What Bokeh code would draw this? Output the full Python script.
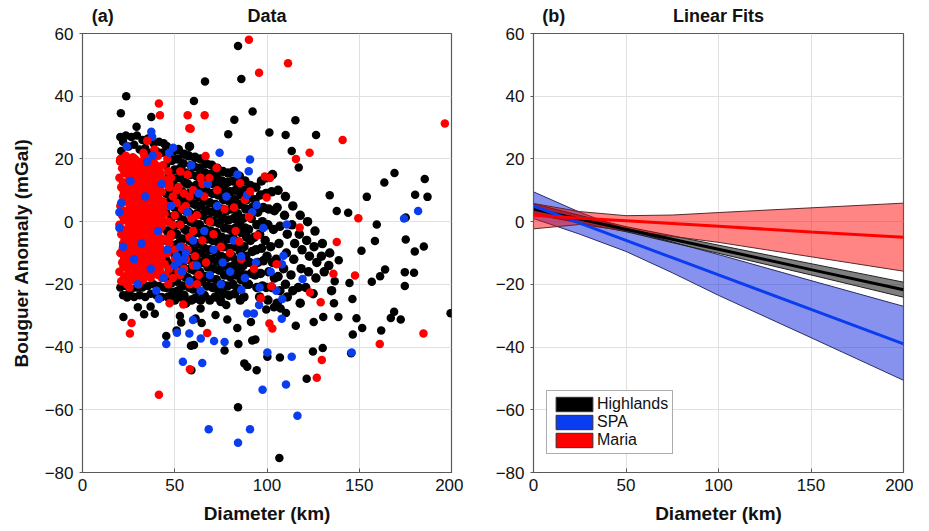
from bokeh.plotting import figure
from bokeh.layouts import row
from bokeh.models import Legend, LegendItem, LinearAxis, Range1d, FixedTicker
from bokeh.embed import file_html
from bokeh.resources import INLINE

FONT = "Liberation Sans"

# ---------------- Panel (a) data: Diameter (km) vs Bouguer anomaly (mGal) ----------------
# Highlands - dense core
hl_core_d = [
    45.5,46.5,45,47,46,45.5,46.5,45,47,46,45.5,46.5,45,47,46,45.5,46.5,
    49,48.5,50,49.5,48,49,50,48.5,49.5,48,49,50,48.5,49.5,48,49,50,
    52,51.5,53,52.5,51,52,53,51.5,52.5,51,52,53,51.5,52.5,51,52,53,
    55,54.5,56,55.5,54,55,56,54.5,55.5,54,55,56,54.5,55.5,54,55,56,
    58,57.5,59,58.5,57,58,59,57.5,58.5,57,58,59,57.5,58.5,57,58,59,
    61,60.5,62,61.5,60,61,62,60.5,61.5,60,61,62,60.5,61.5,60,61,
    64,63.5,65,64.5,63,64,65,63.5,64.5,63,64,65,63.5,64.5,63,64,
    67,66.5,68,67.5,66,67,68,66.5,67.5,66,67,68,66.5,67.5,66,
    70,69.5,71,70.5,69,70,71,69.5,70.5,69,70,71,69.5,70.5,69,
    73,72.5,74,73.5,72,73,74,72.5,73.5,72,73,74,72.5,73.5,72,
    76,75.5,77,76.5,75,76,77,75.5,76.5,75,76,77,75.5,76.5,75,
    79,78.5,80,79.5,78,79,80,78.5,79.5,78,79,80,78.5,79.5,
    82,81.5,83,82.5,81,82,83,81.5,82.5,81,82,83,81.5,82.5,
    85,84.5,86,85.5,84,85,86,84.5,85.5,84,85,86,84.5,85.5,
    88,87.5,89,88.5,87,88,89,87.5,88.5,87,88,89,87.5,
    91,90.5,92,91.5,90,91,92,90.5,91.5,90,
    94,93.5,95,94.5,93,94,95,93.5,94.5,
    97,96.5,98,97.5,96,97,98,96.5,97.5,96,
    100,99.5,101,100.5,99,100,101,99.5,100.5,
    103,102.5,104,103.5,102,103,104,102.5,
    106,105.5,107,106.5,105,106,107,105.5,
    110,109.5,111,110.5,109,110,111,
    114,113.5,115,114.5,113,114,
    118,117.5,119,118.5,117,118,
    122,121.5,123,122.5,121,
    126,125.5,127,126.5,125,
    130,129.5,131,
    134,133.5,135,
]
hl_core_g = [
    24,21,18,15,12,9,6,3,0,-3,-6,-9,-12,-15,-18,-21,-24,
    22.5,19.5,16.5,13.5,10.5,7.5,4.5,1.5,-1.5,-4.5,-7.5,-10.5,-13.5,-16.5,-19.5,-22.5,-25,
    23,20,17,14,11,8,5,2,-1,-4,-7,-10,-13,-16,-19,-22,-24,
    21.5,18.5,15.5,12.5,9.5,6.5,3.5,0.5,-2.5,-5.5,-8.5,-11.5,-14.5,-17.5,-20.5,-23.5,-26,
    24,21,18,15,12,9,6,3,0,-3,-6,-9,-12,-15,-18,-21,-25,
    20.5,17.5,14.5,11.5,8.5,5.5,2.5,-0.5,-3.5,-6.5,-9.5,-12.5,-15.5,-18.5,-21.5,-24.5,
    20,17,14,11,8,5,2,-1,-4,-7,-10,-13,-16,-19,-22,-25,
    18.5,15.5,12.5,9.5,6.5,3.5,0.5,-2.5,-5.5,-8.5,-11.5,-14.5,-17.5,-20.5,-23.5,
    18,15,12,9,6,3,0,-3,-6,-9,-12,-15,-18,-21,-25,
    17,14.5,11.5,8.5,5.5,2.5,-0.5,-3.5,-6.5,-9.5,-12.5,-15.5,-18.5,-21.5,-24,
    16,13,10,7,4,1,-2,-5,-8,-11,-14,-17,-20,-23,-25.5,
    15.5,12.5,9.5,6.5,3.5,0.5,-2.5,-5.5,-8.5,-11.5,-14.5,-17.5,-20.5,-23.5,
    16,13,10,7,4,1,-2,-5,-8,-11,-14,-17,-20,-23,
    14.5,11.5,8.5,5.5,2.5,-0.5,-3.5,-6.5,-9.5,-12.5,-15.5,-18.5,-21.5,-25,
    13,10,7,4,1,-2,-5,-8,-11,-14,-17,-20,-24,
    11.5,8,4.5,1,-2.5,-6,-9.5,-13,-16.5,-20,
    11,7,3,-1,-5,-9,-13,-17,-21,
    13,8.5,4.5,0,-4,-8.5,-12.5,-16.5,-20.5,-24,
    14,9,4,-1,-6,-11,-16,-21,-25,
    15,9.5,3.5,-2.5,-8,-13,-18,-21,
    10,4.5,-1.5,-7,-12,-17.5,-22,-26,
    8,2,-4,-10,-15,-20,-24,
    5,-1,-7,-12,-17,-22,
    2,-4,-9,-15,-21,-26,
    0,-6,-11,-16,-21,
    -3,-8,-13,-18,-23,
    -7,-11,-16,
    -10,-14,-22,
]
# Highlands - edges of the small-crater cluster
hl_edge_d = [20.5,22,21,23.5,25,26.5,28,29.5,31,32.5,34,35.5,37,38.5,40,41.5,43,44,
             20.5,22,23.5,25,26.5,28,29.5,31,32.5,34,35.5,37,38.5,40,41.5,43,44]
hl_edge_g = [27,25.5,22.5,27.5,24,27,24.5,27.5,23,26,23.5,26.5,22,25,22.5,25.5,22,25,
             -21,-23.5,-20.5,-23,-21.5,-24,-21,-23.5,-21,-24,-20.5,-23,-20,-23.5,-20.5,-24,-21]
# Highlands - scattered points
hl_out_d = [84.3,66.4,86.1,23.7,20.8,60.4,92.2,29.3,37.3,82.3,
            115.4,101.3,110.1,126.6,79.0,113.4,117.2,169.1,185.5,163.6,
            154.1,134.0,187.0,180.3,137.8,144.0,175.2,159.5,151.2,158.5,
            175.2,185.0,180.1,138.9,174.7,179.7,161.3,156.8,164.0,174.7,
            136.7,144.7,146.3,148.5,138.7,168.9,167.1,172.5,151.6,161.9,
            146.5,145.6,199.5,136.3,130.5,125.3,130.2,124.9,121.5,115.6,
            107.0,100.2,94.4,89.3,87.7,84.3,106.7,59.0,93.7,92.0,
            84.5,77.0,58.8,60.4,51.0,45.4,22.2,30.0,33.4,39.2,
            36.9,24.2,64.0,61.3,64.6,72.1,78.5,83.9,91.3,99.6,
            103.8,107.4,110.3,77.9,52.8,53.5]
hl_out_g = [56.0,44.7,45.5,40.0,34.6,38.5,35.1,30.3,33.4,32.5,
            32.3,28.4,27.6,27.6,27.9,22.5,17.3,15.5,13.6,12.5,
            7.9,8.4,7.9,8.6,3.4,2.8,1.3,-0.9,-9.3,-6.2,
            -5.7,-7.9,-9.5,-12.3,-16.1,-16.3,-17.4,-19.2,-15.3,-20.5,
            -19.0,-19.6,-24.7,-30.8,-30.4,-28.7,-30.7,-31.2,-33.9,-34.7,
            -36.0,-42.0,-29.2,-26.0,-30.4,-32.0,-40.3,-41.4,-50.1,-33.2,
            -43.3,-43.1,-47.4,-46.3,-45.2,-59.2,-75.4,-47.4,-37.6,-37.9,
            -39.0,-41.1,-39.6,-39.3,-34.7,-36.5,-30.4,-27.3,-29.5,-29.4,
            -27.1,-24.2,-27.7,-30.9,-32.3,-29.8,-31.2,-33.9,-32.0,-28.0,
            -27.3,-27.7,-29.1,-26.6,-30.1,-32.2]

# SPA
sp_core_d = [20,20,21,22,24,26,28,30,32,34,35,37,38,40,41,43,44,46,47,48,
             50,51,52,53,54,55,56,57,58,59,60,62,63,64,66,68,69,71,73,75,
             76,78,80,82,84,86,88,92,94,96,98,102,105]
sp_core_g = [3,-2,6,-8,24,13,-12,-20,-7,8,19,-15,21,-22,-3,12,-18,-9,22,5,
             -14,-11,-13,-8,-16,-12,-10,3,-19,18,-6,-14,9,-22,-3,12,-17,-9,5,-20,
             -13,8,-16,-6,15,-11,-18,3,-13,-21,-2,-16,-22]
sp_out_d = [37.3,37.8,49.2,74.3,90.8,90.1,174.3,181.9,89.2,94.4,
            110.7,108.9,119.3,108.1,108.3,108.0,95.7,92.9,145.9,100.2,
            113.4,110.3,97.6,116.5,68.4,90.8,84.3,54.4,64.9,45.4,
            51.2,57.9,64.1,71.3,77.0,59.9,41.4,86.1,89.3]
sp_out_g = [28.7,27.1,23.6,22.0,19.8,16.1,1.0,3.4,8.5,5.3,
            -0.9,-10.9,-18.3,-13.6,-24.7,-31.0,-26.6,-29.3,-41.7,-41.7,
            -43.1,-51.9,-53.6,-61.9,-66.2,-66.2,-70.5,-44.7,-45.1,-39.0,
            -35.4,-35.7,-37.3,-38.1,-38.4,-31.4,-24.7,-21.7,-29.3]

# Maria
rd_core_d = [
    20.5,21.5,20,21,22,20.5,21.5,20,21,22,20.5,21.5,20,21,
    23.5,24,23,23.5,24.5,23,24,23.5,24.5,23,24,23.5,24.5,23,24,
    26,26.5,25.5,26,27,25.5,26.5,26,27,25.5,26.5,26,27,25.5,
    28.5,29,28,28.5,29.5,28,29,28.5,29.5,28,29,28.5,29.5,28,
    31,31.5,30.5,31,32,30.5,31.5,31,32,30.5,31.5,31,32,30.5,
    33.5,34,33,33.5,34.5,33,34,33.5,34.5,33,34,33.5,34.5,
    36,36.5,35.5,36,37,35.5,36.5,36,37,35.5,36.5,36,37,
    38.5,39,38,38.5,39.5,38,39,38.5,39.5,38,39,38.5,
    41,41.5,40.5,41,42,40.5,41.5,41,42,40.5,41.5,41,
    43.5,44,43,43.5,44.5,43,44,43.5,44.5,43,
    46.5,47,46,46.5,47.5,46,47,46.5,
]
rd_core_g = [
    20,17,14,11,8,5,2,-1,-4,-7,-10,-13,-16,-19,
    21,18.5,15.5,12.5,9.5,6.5,3.5,0.5,-2.5,-5.5,-8.5,-11.5,-14.5,-17.5,-20,
    19,16,13,10,7,4,1,-2,-5,-8,-11,-14,-17,-21,
    20,17.5,14.5,11.5,8.5,5.5,2.5,-0.5,-3.5,-6.5,-9.5,-12.5,-15.5,-18.5,
    19,16,13,10,7,4,1,-2,-5,-8,-11,-14,-17,-20,
    21,17.5,14.5,11.5,8.5,5.5,2.5,-0.5,-3.5,-6.5,-9.5,-12.5,-15.5,
    18,15,12,9,6,3,0,-3,-6,-9,-12,-15,-18,
    19,16.5,13.5,10.5,7.5,4.5,1.5,-1.5,-4.5,-7.5,-10.5,-13.5,
    17,14,11,8,5,2,-1,-4,-7,-10,-14,-17,
    18,13.5,9.5,6.5,2.5,-1.5,-5.5,-9.5,-13.5,-18,
    16,11,5,0,-5,-10,-15,-20,
]
rd_core2_d = [
    22.2,22.7,21.9,22.4,22.9,21.8,22.5,22.1,22.8,21.9,22.6,22.2,22.7,
    24.8,25.3,24.5,25,25.5,24.4,25.1,24.7,25.4,24.5,25.2,24.8,25.3,
    27.3,27.8,27,27.5,28,26.9,27.6,27.2,27.9,27,27.7,27.3,27.8,27.1,
    29.8,30.3,29.5,30,30.5,29.4,30.1,29.7,30.4,29.5,30.2,29.8,30.3,
    32.3,32.8,32,32.5,33,31.9,32.6,32.2,32.9,32,32.7,32.3,32.8,
    34.8,35.3,34.5,35,35.5,34.4,35.1,34.7,35.4,34.5,35.2,34.8,35.3,
    37.3,37.8,37,37.5,38,36.9,37.6,37.2,37.9,37,37.7,37.3,
    39.8,40.3,39.5,40,40.5,39.4,40.1,39.7,40.4,39.5,40.2,39.8,
    42.3,42.8,42,42.5,43,41.9,42.6,42.2,42.9,42,
]
rd_core2_g = [
    18.5,15.5,12.5,9.5,6.5,3.5,0.5,-2.5,-5.5,-8.5,-11.5,-14.5,-17.5,
    17.5,14.5,11.5,8.5,5.5,2.5,-0.5,-3.5,-6.5,-9.5,-12.5,-15.5,-18.5,
    20.5,17.5,14.5,11.5,8.5,5.5,2.5,-0.5,-3.5,-6.5,-9.5,-12.5,-15.5,-18.5,
    18.5,15.5,12.5,9.5,6.5,3.5,0.5,-2.5,-5.5,-8.5,-11.5,-14.5,-17.5,
    17.5,14.5,11.5,8.5,5.5,2.5,-0.5,-3.5,-6.5,-9.5,-12.5,-15.5,-18.5,
    19.5,16,13,10,7,4,1,-2,-5,-8,-11,-14,-17,
    16.5,13.5,10.5,7.5,4.5,1.5,-1.5,-4.5,-7.5,-10.5,-13.5,-16.5,
    18,15,12,9,6,3,0,-3,-6,-9,-12,-15,
    15.5,12.5,9.5,3.5,0.5,-2.5,-5.5,-8.5,-11.5,-15.5,
]
rd_mid_d = [48,49,50,48,50,49,52,53,54,55,56,57,58,58,60,61,62,63,64,65,
            66,67,69,71,73,75,77,80,83,86,88,33,41,46,39,51,53,57,59,62,65,60,55,
            47,49,51,52,54,56,58,60,45,47,50,53]
rd_mid_g = [14,8,2,-4,-12,-18,11,-1,-8,-15,5,15,-5,-20,10,-11,2,-17,14,-6,
            8,-13,0,-4,10,-8,4,-10,-3,-12,7,22,21,20,23,6,-17,-9,1,-20,12,-14,9,
            -7,-1,10,-16,4,-12,8,-3,-17,12,-9,16]
rd_out_d = [90.2,95.7,111.4,196.4,41.4,42.0,57.0,66.2,57.9,141.0,
            123.1,115.7,149.5,117.7,137.8,136.0,147.7,123.3,129.1,101.3,
            102.9,161.1,184.8,129.7,127.0,41.4,58.2,26.6,25.7,67.6,
            54.6,47.2,96.6,102.3,93.0,99.8,90.9,90.2,85.4,82.1,
            66.7,68.7,72.7,98.8,101.6,35.1,58.6,20.3,105.2,85.0,94.8]
rd_out_g = [58.0,47.5,50.5,31.3,37.7,33.9,33.9,33.9,29.8,26.0,
            22.0,20.0,1.1,-1.9,-6.5,-16.6,-17.2,-22.6,-25.7,-32.5,
            -34.1,-39.0,-35.7,-44.1,-49.8,-55.2,-47.1,-32.3,-35.7,-35.5,
            -26.4,-26.0,-24.4,-20.6,-15.0,7.7,9.6,1.5,12.3,4.5,
            20.9,13.9,17.1,14.4,13.9,25.8,29.6,19.3,-13.6,-6.4,-4.4]

# ---------------- Panel (b) data: linear fits with confidence bands ----------------
fit_d = [0, 25, 50, 75, 100, 150, 200]
hl_fit = [4.0, 0.8, -2.4, -5.6, -8.8, -15.3, -21.7]
hl_hi = [5.7, 2.0, -1.6, -4.5, -7.5, -13.4, -19.3]
hl_lo = [2.3, -0.4, -3.2, -6.7, -10.1, -17.0, -24.1]
sp_fit = [5.0, -0.5, -6.0, -11.5, -17.0, -28.0, -39.0]
sp_hi = [9.5, 3.0, -2.5, -6.5, -10.5, -18.8, -27.0]
sp_lo = [1.0, -4.0, -9.5, -16.3, -23.5, -37.0, -50.6]
rd_fit = [2.0, 1.1, 0.3, -0.6, -1.5, -3.3, -5.0]
rd_hi = [5.8, 3.2, 1.9, 2.1, 2.9, 4.4, 5.9]
rd_lo = [-2.3, -0.9, -2.9, -4.7, -6.6, -11.2, -15.8]

series_names = ["Highlands", "SPA", "Maria"]
x_ticks = [0, 50, 100, 150, 200]
y_ticks = [-80, -60, -40, -20, 0, 20, 40, 60]

for a, b in [(hl_core_d, hl_core_g), (hl_edge_d, hl_edge_g), (hl_out_d, hl_out_g),
             (sp_core_d, sp_core_g), (sp_out_d, sp_out_g), (rd_core_d, rd_core_g),
             (rd_core2_d, rd_core2_g), (rd_mid_d, rd_mid_g), (rd_out_d, rd_out_g)]:
    assert len(a) == len(b), (len(a), len(b))

BLACK = "#000000"
BLUE = "#0a3cf0"
RED = "#ff0000"
AXC = "#5a5a5a"
TXT = "#111111"


def make_fig(border_left, border_right, frame_w, ylabel, tag, title):
    p = figure(frame_width=frame_w, frame_height=439,
               x_range=Range1d(0, 200), y_range=Range1d(-80, 60),
               output_backend="svg", toolbar_location=None,
               min_border_left=border_left, min_border_right=border_right,
               min_border_top=33, min_border_bottom=56)
    p.outline_line_color = AXC
    p.outline_line_width = 1.2
    p.background_fill_color = "white"
    p.border_fill_color = "white"
    p.xaxis.ticker = FixedTicker(ticks=x_ticks)
    p.yaxis.ticker = FixedTicker(ticks=y_ticks)
    for ax in (p.xaxis[0], p.yaxis[0]):
        ax.axis_line_color = AXC
        ax.major_tick_line_color = AXC
        ax.minor_tick_line_color = None
        ax.major_label_text_font = FONT
        ax.major_label_text_font_size = "17px"
        ax.major_label_text_color = TXT
        ax.axis_label_text_font = FONT
        ax.axis_label_text_font_size = "19px"
        ax.axis_label_text_font_style = "bold"
        ax.axis_label_text_color = TXT
    p.xaxis.major_tick_in = 4
    p.xaxis.major_tick_out = 0
    p.yaxis.major_tick_in = 0
    p.yaxis.major_tick_out = 3
    p.xaxis.major_label_standoff = 6
    p.yaxis.major_label_standoff = 6
    p.xaxis.axis_label = "Diameter (km)"
    p.xaxis.axis_label_standoff = 9
    if ylabel:
        p.yaxis.axis_label = ylabel
        p.yaxis.axis_label_standoff = 10
    p.xgrid.ticker = FixedTicker(ticks=x_ticks)
    p.ygrid.ticker = FixedTicker(ticks=y_ticks)
    p.grid.grid_line_color = "#e0e0e0"
    p.grid.grid_line_width = 1
    # panel tag and title, placed along the top edge
    tag_pos = 11
    tax = LinearAxis(ticker=FixedTicker(ticks=[tag_pos, 100]),
                     major_label_overrides={tag_pos: tag, 100: title},
                     axis_line_color=None, major_tick_line_color=None,
                     minor_tick_line_color=None, major_label_text_font=FONT,
                     major_label_text_font_size="18px", major_label_text_font_style="bold",
                     major_label_text_color=TXT, major_label_standoff=2)
    p.add_layout(tax, "above")
    return p


# ---------------- Panel (a) ----------------
p1 = make_fig(82, 12, 369, "Bouguer Anomaly (mGal)", "(a)", "Data")
S = 8.5
SC = 9.5
p1.scatter(hl_core_d, hl_core_g, size=SC, color=BLACK, line_color=None)
p1.scatter(hl_edge_d, hl_edge_g, size=S, color=BLACK, line_color=None)
p1.scatter(hl_out_d, hl_out_g, size=S, color=BLACK, line_color=None)
p1.scatter(rd_core_d, rd_core_g, size=S, color=RED, line_color=None)
p1.scatter(rd_core2_d, rd_core2_g, size=S, color=RED, line_color=None)
p1.scatter(rd_mid_d, rd_mid_g, size=S, color=RED, line_color=None)
p1.scatter(sp_core_d, sp_core_g, size=S, color=BLUE, line_color=None)
p1.scatter(sp_out_d, sp_out_g, size=S, color=BLUE, line_color=None)
p1.scatter(rd_out_d, rd_out_g, size=S, color=RED, line_color=None)

# ---------------- Panel (b) ----------------
p2 = make_fig(70, 10, 370, None, "(b)", "Linear Fits")

p2.varea(x=fit_d, y1=sp_lo, y2=sp_hi, fill_color="#2238e0", fill_alpha=0.55)
p2.line(fit_d, sp_hi, line_color="#2a2f66", line_width=1)
p2.line(fit_d, sp_lo, line_color="#2a2f66", line_width=1)
p2.varea(x=fit_d, y1=hl_lo, y2=hl_hi, fill_color="#000000", fill_alpha=0.5)
p2.line(fit_d, hl_hi, line_color="#222222", line_width=1)
p2.line(fit_d, hl_lo, line_color="#222222", line_width=1)
p2.varea(x=fit_d, y1=rd_lo, y2=rd_hi, fill_color="#ff0000", fill_alpha=0.48)
p2.line(fit_d, rd_hi, line_color="#5a2a2a", line_width=1)
p2.line(fit_d, rd_lo, line_color="#5a2a2a", line_width=1)

p2.line(fit_d, hl_fit, line_color=BLACK, line_width=3)
p2.line(fit_d, sp_fit, line_color=BLUE, line_width=3)
p2.line(fit_d, rd_fit, line_color=RED, line_width=3)

# legend swatches: zero-area boxes at each fit's first point (invisible in the plot)
swatches = []
for name, col, fit in zip(series_names, [BLACK, BLUE, RED], [hl_fit, sp_fit, rd_fit]):
    r = p2.quad(left=[fit_d[0]], right=[fit_d[0]], top=[fit[0]], bottom=[fit[0]],
                fill_color=col, line_color="#333333", line_width=1)
    swatches.append(LegendItem(label=name, renderers=[r]))

legend = Legend(items=swatches, location=(13, 18), orientation="vertical",
                label_text_font=FONT, label_text_font_size="16px", label_text_color=TXT,
                glyph_width=46, glyph_height=18, label_height=16, label_standoff=0,
                spacing=0, padding=4, margin=0,
                border_line_color=AXC, border_line_width=1, background_fill_alpha=1)
p2.add_layout(legend)

layout = row(p1, p2)
open("out.html", "w").write(file_html(layout, INLINE))
